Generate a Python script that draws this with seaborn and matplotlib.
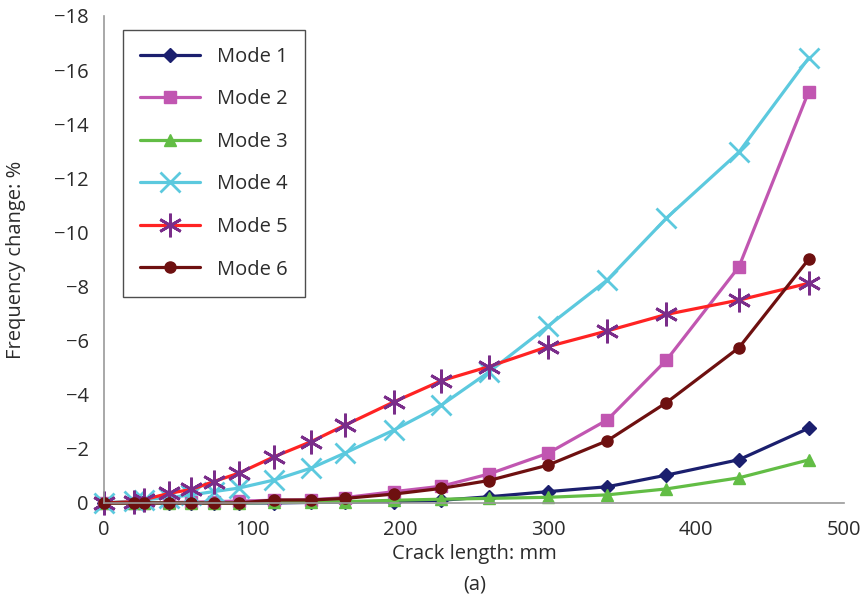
import matplotlib
matplotlib.use("Agg")
import matplotlib.pyplot as plt
import seaborn as sns
import pandas as pd

# Crack length (mm) and frequency change (%) for the first six modes
crack_length = [0, 20, 27, 44, 59, 74, 91, 115, 140, 163, 196, 228, 260, 300, 340, 380, 429, 476]
mode1 = [0, 0, 0, 0, 0, 0, 0, 0, -0.02, -0.03, -0.05, -0.10, -0.23, -0.42, -0.60, -1.03, -1.60, -2.76]
mode2 = [0, 0, 0, -0.02, -0.03, -0.05, -0.07, -0.10, -0.12, -0.20, -0.42, -0.62, -1.07, -1.84, -3.07, -5.28, -8.73, -15.19]
mode3 = [0, 0, 0, 0, 0, 0, 0, -0.02, -0.03, -0.05, -0.10, -0.14, -0.17, -0.21, -0.30, -0.52, -0.93, -1.59]
mode4 = [0, -0.08, -0.12, -0.20, -0.30, -0.42, -0.55, -0.85, -1.29, -1.85, -2.70, -3.62, -4.84, -6.54, -8.24, -10.53, -12.97, -16.44]
mode5 = [0, -0.05, -0.12, -0.36, -0.50, -0.79, -1.10, -1.71, -2.27, -2.88, -3.74, -4.52, -5.04, -5.78, -6.36, -6.97, -7.50, -8.12]
mode6 = [0, 0, 0, 0, 0, 0, 0, -0.11, -0.11, -0.17, -0.33, -0.54, -0.83, -1.40, -2.30, -3.71, -5.74, -9.00]

series_names = ["Mode 1", "Mode 2", "Mode 3", "Mode 4", "Mode 5", "Mode 6"]
series_values = [mode1, mode2, mode3, mode4, mode5, mode6]
y_ticks = [0, -2, -4, -6, -8, -10, -12, -14, -16, -18]
x_ticks = [0, 100, 200, 300, 400, 500]

styles = {
    "Mode 1": dict(color="#1b1f6e", marker="D", markersize=7, mfc="#1b1f6e", mec="#1b1f6e", mew=1),
    "Mode 2": dict(color="#c156b1", marker="s", markersize=8, mfc="#c156b1", mec="#c156b1", mew=1),
    "Mode 3": dict(color="#62bd45", marker="^", markersize=9, mfc="#62bd45", mec="#62bd45", mew=1),
    "Mode 4": dict(color="#5cc9de", marker="x", markersize=15, mfc="none", mec="#5cc9de", mew=2),
    "Mode 5": dict(color="#ff2323", marker=(6, 2, 0), markersize=17, mfc="none", mec="#7a2d8a", mew=2),
    "Mode 6": dict(color="#6e1010", marker="o", markersize=8, mfc="#6e1010", mec="#6e1010", mew=1),
}

FS = 14.5
TEXT = "#2b2b2b"

sns.set_style("white")
plt.rcParams["font.family"] = ["Open Sans", "DejaVu Sans"]
plt.rcParams["axes.unicode_minus"] = True

fig = plt.figure(figsize=(8.64, 5.99), dpi=100)
ax = fig.add_axes([0.1204, 0.1603, 0.8565, 0.813])

for name, vals in zip(series_names, series_values):
    df = pd.DataFrame({"Crack length": crack_length, "Frequency change": vals})
    st = styles[name]
    sns.lineplot(data=df, x="Crack length", y="Frequency change", ax=ax,
                 color=st["color"], linewidth=2.3, marker=st["marker"],
                 markersize=st["markersize"], markerfacecolor=st["mfc"],
                 markeredgecolor=st["mec"], markeredgewidth=st["mew"],
                 label=name, clip_on=False, estimator=None)

ax.set_xlim(0, 500)
ax.set_ylim(0, -18)
ax.set_xticks(x_ticks)
ax.set_yticks(y_ticks)

spine_color = "#9a9a9a"
for side in ["top", "right"]:
    ax.spines[side].set_visible(False)
for side in ["left", "bottom"]:
    ax.spines[side].set_color(spine_color)
    ax.spines[side].set_linewidth(1.2)
ax.tick_params(axis="both", direction="out", length=6, width=1.2, color=spine_color,
               labelsize=FS, labelcolor=TEXT, pad=5)
ax.tick_params(axis="x", pad=6)

ax.set_xlabel("Crack length: mm", fontsize=FS, color=TEXT, labelpad=3)
ax.set_ylabel("Frequency change: %", fontsize=FS, color=TEXT, labelpad=20)
fig.text(0.549, 0.024, "(a)", fontsize=FS, color=TEXT, ha="center", va="center")

leg = ax.legend(loc="upper left", bbox_to_anchor=(0.025, 0.972), borderaxespad=0,
                fontsize=FS, frameon=True, fancybox=False, edgecolor="#222222",
                handlelength=3.0, handletextpad=0.85, labelspacing=1.12,
                borderpad=0.85, markerscale=1.0)
leg.get_frame().set_linewidth(1.0)
for t in leg.get_texts():
    t.set_color(TEXT)

fig.savefig("out.png", dpi=100)
